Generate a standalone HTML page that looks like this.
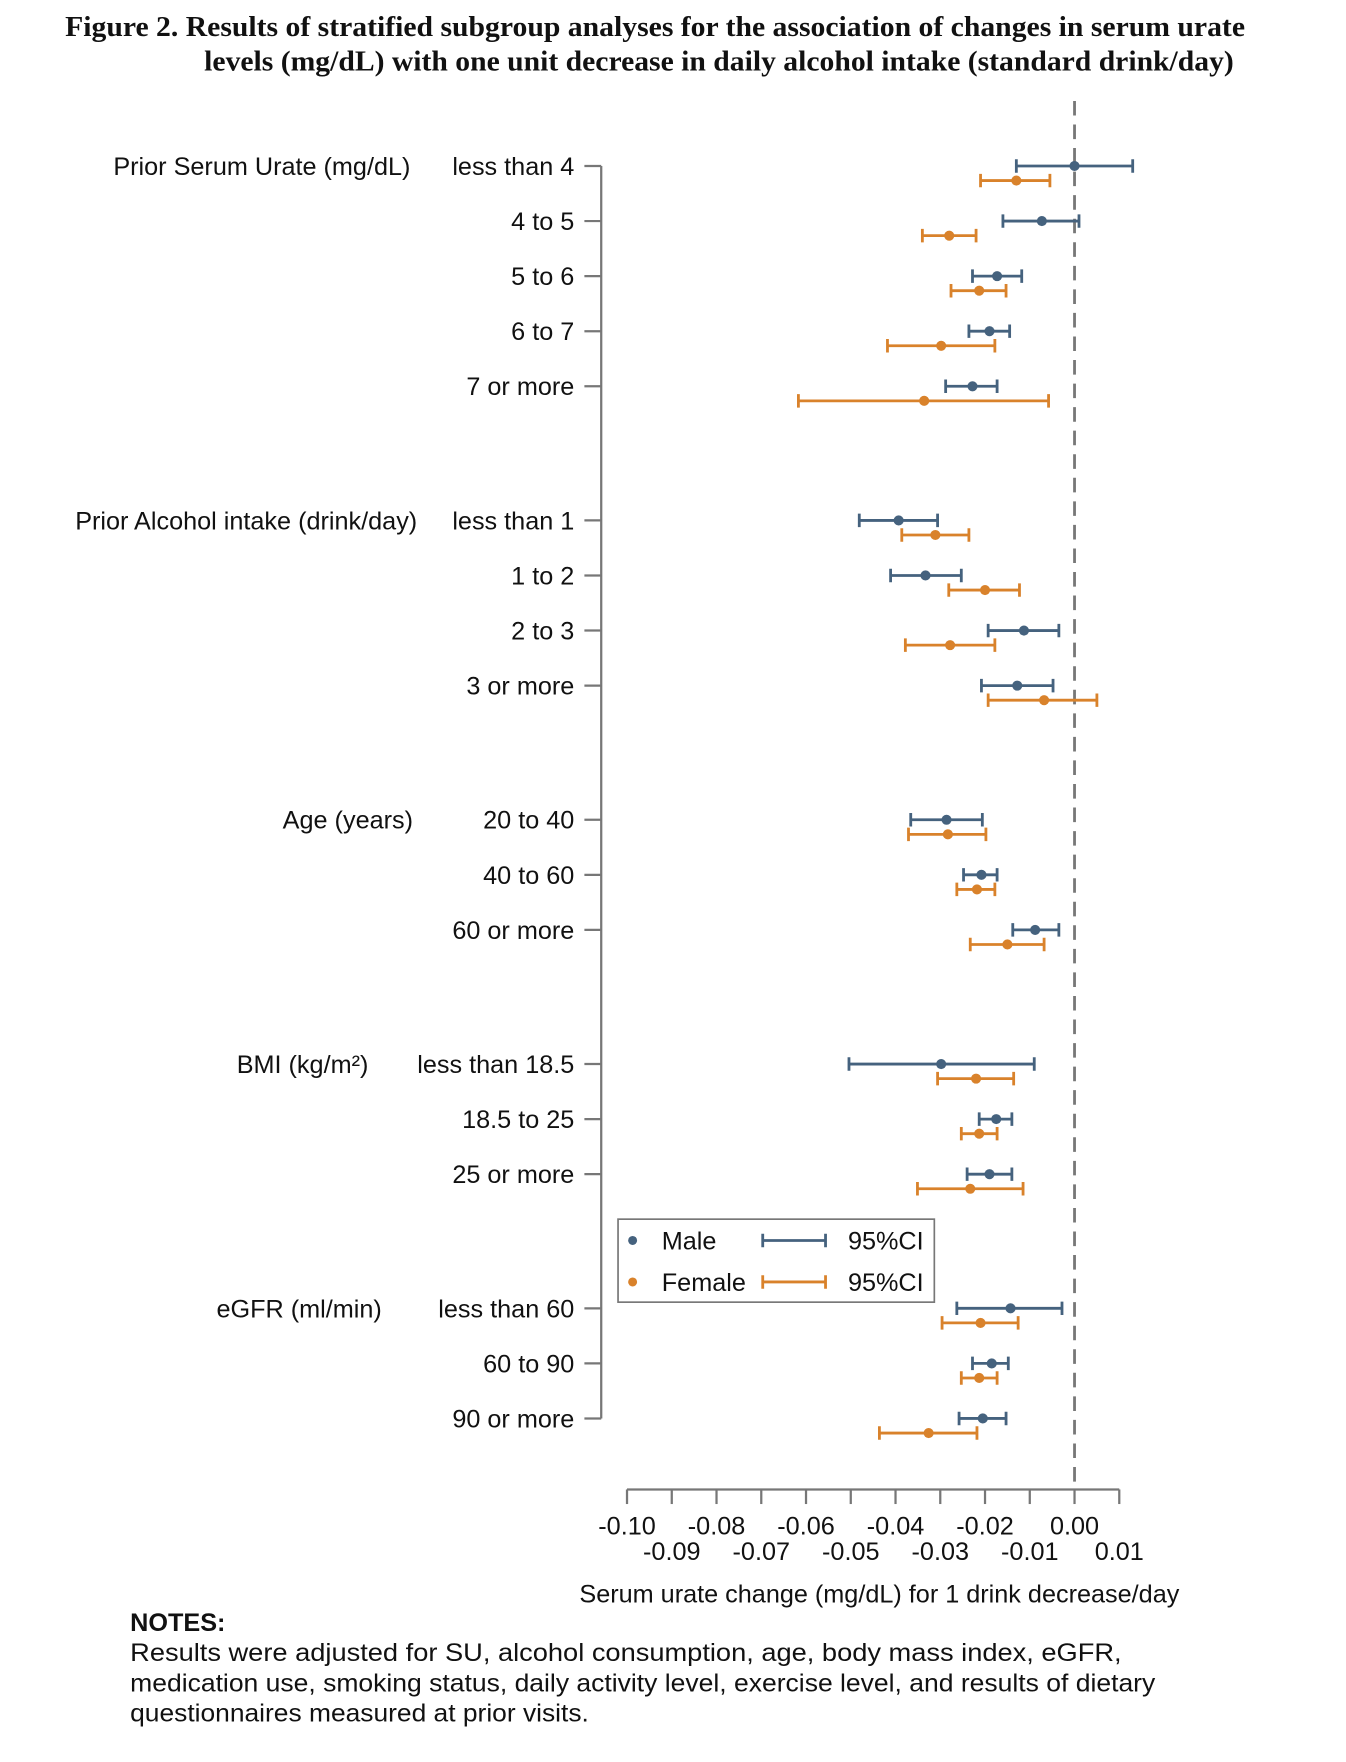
<!DOCTYPE html>
<html><head><meta charset="utf-8"><style>
body{margin:0;background:#fff}
svg{display:block}
text{font-family:"Liberation Sans",sans-serif;font-size:22.5px;fill:#111}
.t{font-family:"Liberation Serif",serif;font-weight:bold;font-size:25px}
</style></head><body>
<svg id="chart" width="1346" height="1762" viewBox="0 0 1200 1571" xmlns="http://www.w3.org/2000/svg">
<text class="t" x="58" y="32" textLength="1052" lengthAdjust="spacingAndGlyphs">Figure 2. Results of stratified subgroup analyses for the association of changes in serum urate</text>
<text class="t" x="182" y="63" textLength="918" lengthAdjust="spacingAndGlyphs">levels (mg/dL) with one unit decrease in daily alcohol intake (standard drink/day)</text>
<g id="plot"></g>
<g>
<rect x="551" y="1087" width="282" height="74" fill="#fff" stroke="#777" stroke-width="1.5"/>
<circle cx="564" cy="1106" r="4" fill="#45627e"/><text x="590" y="1114">Male</text>
<path d="M680 1106H736M680 1100V1112M736 1100V1112" stroke="#45627e" stroke-width="2.5" fill="none"/><text x="756" y="1114">95%CI</text>
<circle cx="564" cy="1143" r="4" fill="#d9822b"/><text x="590" y="1151">Female</text>
<path d="M680 1143H736M680 1137V1149M736 1137V1149" stroke="#d9822b" stroke-width="2.5" fill="none"/><text x="756" y="1151">95%CI</text>
</g>
<text x="784" y="1429" text-anchor="middle">Serum urate change (mg/dL) for 1 drink decrease/day</text>
<text x="116" y="1454" style="font-weight:bold">NOTES:</text>
<text x="116" y="1481" textLength="884" lengthAdjust="spacingAndGlyphs">Results were adjusted for SU, alcohol consumption, age, body mass index, eGFR,</text>
<text x="116" y="1508" textLength="914" lengthAdjust="spacingAndGlyphs">medication use, smoking status, daily activity level, exercise level, and results of dietary</text>
<text x="116" y="1535" textLength="409" lengthAdjust="spacingAndGlyphs">questionnaires measured at prior visits.</text>
</svg>
<script>
const groups=["Prior Serum Urate (mg/dL)","Prior Alcohol intake (drink/day)","Age (years)","BMI (kg/m²)","eGFR (ml/min)"];
const groupX=[101,67,252,211,193];
const categories=[["less than 4","4 to 5","5 to 6","6 to 7","7 or more"],["less than 1","1 to 2","2 to 3","3 or more"],["20 to 40","40 to 60","60 or more"],["less than 18.5","18.5 to 25","25 or more"],["less than 60","60 to 90","90 or more"]];
const maleEst=[0.000,-0.0073,-0.0173,-0.019,-0.0228,-0.0393,-0.0333,-0.0113,-0.0128,-0.0286,-0.0208,-0.0088,-0.0298,-0.0175,-0.019,-0.0143,-0.0185,-0.0205];
const maleLo=[-0.013,-0.016,-0.0228,-0.0236,-0.0288,-0.0481,-0.0411,-0.0193,-0.0208,-0.0366,-0.0248,-0.0138,-0.0504,-0.0213,-0.024,-0.0263,-0.0228,-0.0258];
const maleHi=[0.013,0.001,-0.0118,-0.0145,-0.0173,-0.0306,-0.0253,-0.0035,-0.0048,-0.0206,-0.0173,-0.0035,-0.009,-0.014,-0.014,-0.0028,-0.0148,-0.0153];
const femEst=[-0.013,-0.028,-0.0213,-0.0298,-0.0336,-0.0311,-0.020,-0.0278,-0.0068,-0.0283,-0.0218,-0.015,-0.022,-0.0213,-0.0233,-0.021,-0.0213,-0.0326];
const femLo=[-0.021,-0.034,-0.0276,-0.0418,-0.0617,-0.0386,-0.0281,-0.0378,-0.0193,-0.0371,-0.0263,-0.0233,-0.0306,-0.0253,-0.0351,-0.0296,-0.0253,-0.0436];
const femHi=[-0.0055,-0.022,-0.0153,-0.0178,-0.0058,-0.0236,-0.0123,-0.0178,0.005,-0.0198,-0.0178,-0.0068,-0.0136,-0.0173,-0.0115,-0.0126,-0.0173,-0.0218];
const ticks=[-0.10,-0.09,-0.08,-0.07,-0.06,-0.05,-0.04,-0.03,-0.02,-0.01,0.00,0.01];
const tickLabels=["-0.10","-0.09","-0.08","-0.07","-0.06","-0.05","-0.04","-0.03","-0.02","-0.01","0.00","0.01"];
const NS="http://www.w3.org/2000/svg";
const g=document.getElementById('plot');
const x=v=>958+v*3990;
const Y0=148,ROW=49.1,GAP=70.5;
function mk(t,a,p){const e=document.createElementNS(NS,t);for(const k in a)e.setAttribute(k,a[k]);(p||g).appendChild(e);return e;}
const rowY=[];let y=Y0;
categories.forEach((c,gi)=>{c.forEach((_,ri)=>{rowY.push(y);y+=ROW;});y+=GAP;});
let zl=mk('line',{x1:x(0),x2:x(0),y1:90,y2:1328,stroke:'#777','stroke-width':2.5,'stroke-dasharray':'13 8'});


let ya=mk('line',{x1:536,x2:536,y1:rowY[0],y2:rowY[rowY.length-1],stroke:'#777','stroke-width':2});


let k=0;
categories.forEach((c,gi)=>{
  let gl=mk('text',{x:groupX[gi],y:rowY[k]+8});gl.textContent=groups[gi];
  
  
  c.forEach(cat=>{
    const ry=rowY[k];
    mk('line',{x1:521,x2:536,y1:ry,y2:ry,stroke:'#777','stroke-width':2});
    let tl=mk('text',{x:512,y:ry+8,'text-anchor':'end'});tl.textContent=cat;
    
    
    [[maleEst,maleLo,maleHi,'#45627e',0,'male'],[femEst,femLo,femHi,'#d9822b',13,'female']].forEach(s=>{
      const yy=ry+s[4],a=x(s[1][k]),b=x(s[2][k]);
      const grp=mk('g',{});
      
      
      mk('path',{d:`M${a} ${yy}H${b}M${a} ${yy-6}V${yy+6}M${b} ${yy-6}V${yy+6}`,stroke:s[3],'stroke-width':2.5,fill:'none'},grp);
      mk('circle',{cx:x(s[0][k]),cy:yy,r:4.5,fill:s[3]},grp);
    });
    k++;
  });
});
let xa=mk('line',{x1:x(-0.10),x2:x(0.01),y1:1328,y2:1328,stroke:'#777','stroke-width':2});


ticks.forEach((t,i)=>{
  mk('line',{x1:x(t),x2:x(t),y1:1328,y2:1341,stroke:'#777','stroke-width':2});
  let lb=mk('text',{x:x(t),y:i%2?1391:1368,'text-anchor':'middle'});lb.textContent=tickLabels[i];
  
  
});
</script>
</body></html>
